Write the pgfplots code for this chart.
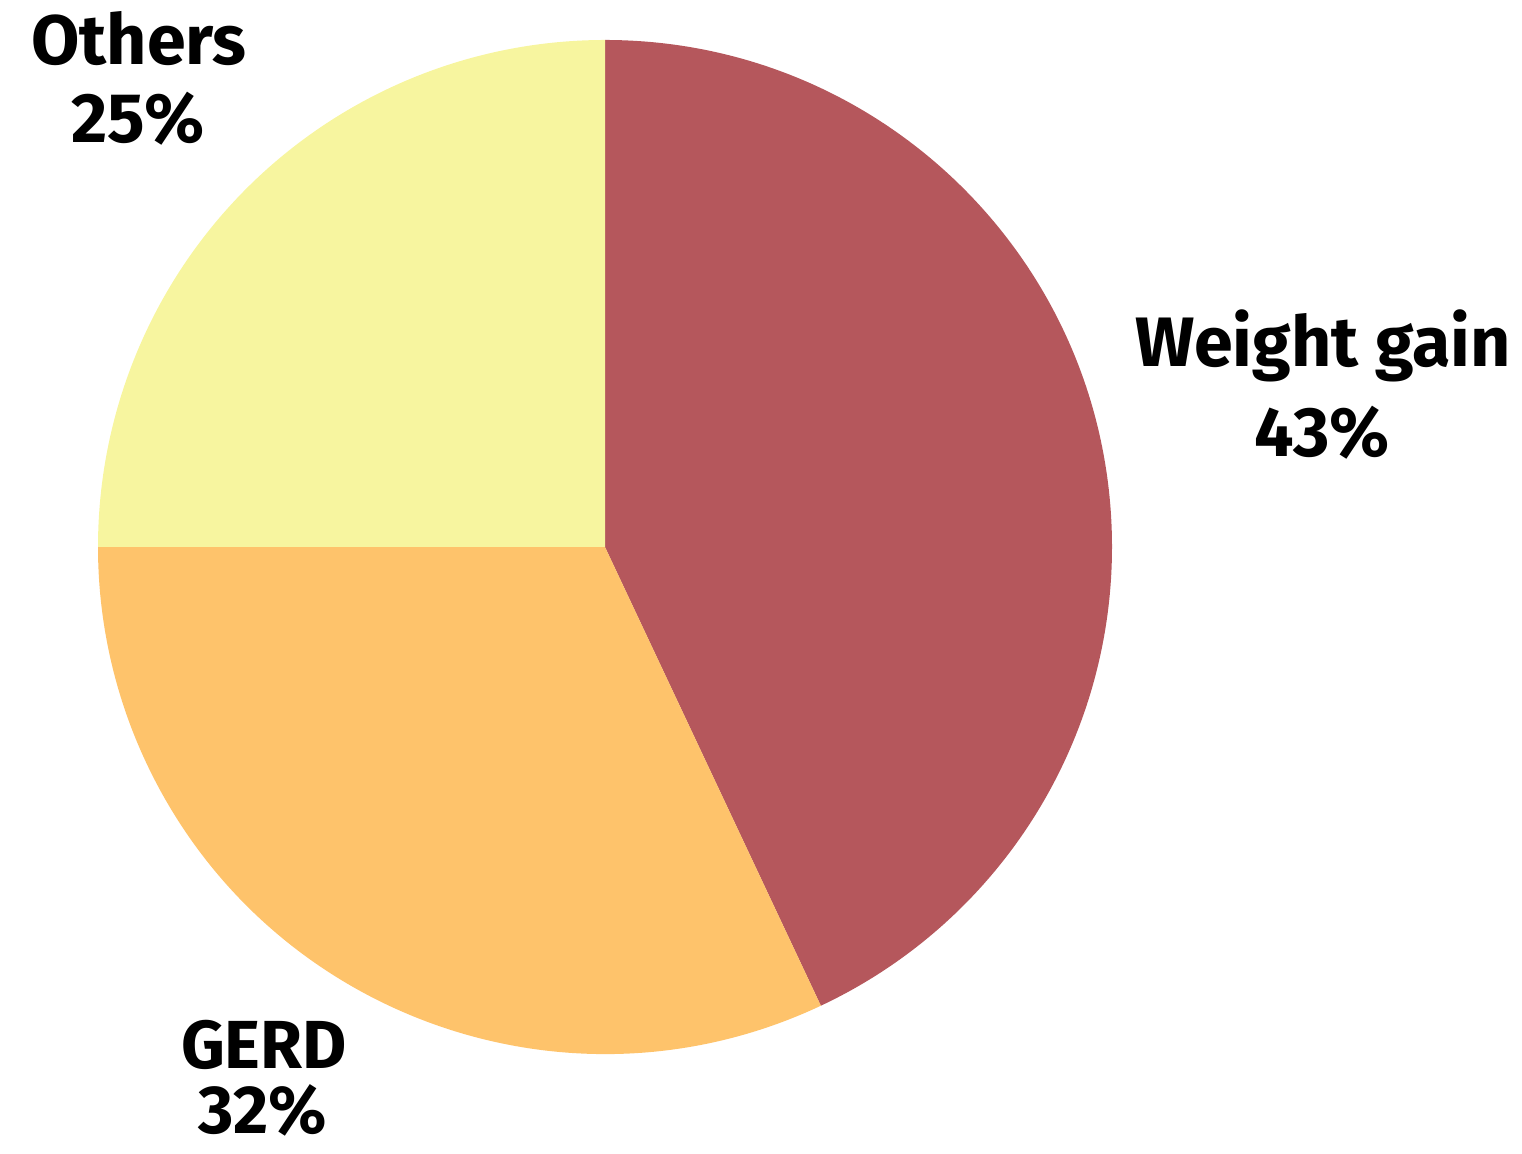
\documentclass[border=0pt]{standalone}
\usepackage{fontspec}
\setmainfont{Fira Sans}
\usepackage{pgfplots}
\pgfplotsset{compat=1.18}
\definecolor{wg}{HTML}{B5575C}
\definecolor{gerd}{HTML}{FEC36B}
\definecolor{oth}{HTML}{F7F59F}
\begin{document}
\begin{tikzpicture}
\begin{axis}[hide axis, scale only axis, width=761pt, height=577pt,
  xmin=0, xmax=1522, ymin=0, ymax=1154, clip=false]
\def\vA{43}\def\vB{32}\def\vC{25}
\pgfmathsetmacro{\aA}{90-\vA*3.6}
\pgfmathsetmacro{\aB}{\aA-\vB*3.6}
\pgfmathsetmacro{\aC}{\aB-\vC*3.6}
\def\R{253.5pt}
\fill[wg] (axis cs:605,607) -- ++(90:\R) arc[start angle=90, end angle=\aA, radius=\R] -- cycle;
\fill[gerd] (axis cs:605,607) -- ++(\aA:\R) arc[start angle=\aA, end angle=\aB, radius=\R] -- cycle;
\fill[oth] (axis cs:605,607) -- ++(\aB:\R) arc[start angle=\aB, end angle=\aC, radius=\R] -- cycle;
\tikzset{lbl/.style={anchor=base, inner sep=0pt}}
\node[lbl, font=\bfseries\fontsize{35}{40}\selectfont] at (axis cs:139,1089) {Others};
\node[lbl, font=\bfseries\fontsize{35}{40}\selectfont] at (axis cs:138,1011) {25\%};
\node[lbl, font=\bfseries\fontsize{35}{40}\selectfont] at (axis cs:1323,787) {Weight gain};
\node[lbl, font=\bfseries\fontsize{35}{40}\selectfont] at (axis cs:1322,697) {43\%};
\node[lbl, font=\bfseries\fontsize{34}{40}\selectfont] at (axis cs:264,85) {GERD};
\node[lbl, font=\bfseries\fontsize{34}{40}\selectfont] at (axis cs:263,20) {32\%};
\end{axis}
\pgfresetboundingbox
\useasboundingbox (0,0) rectangle (761pt,577pt);
\end{tikzpicture}
\end{document}
